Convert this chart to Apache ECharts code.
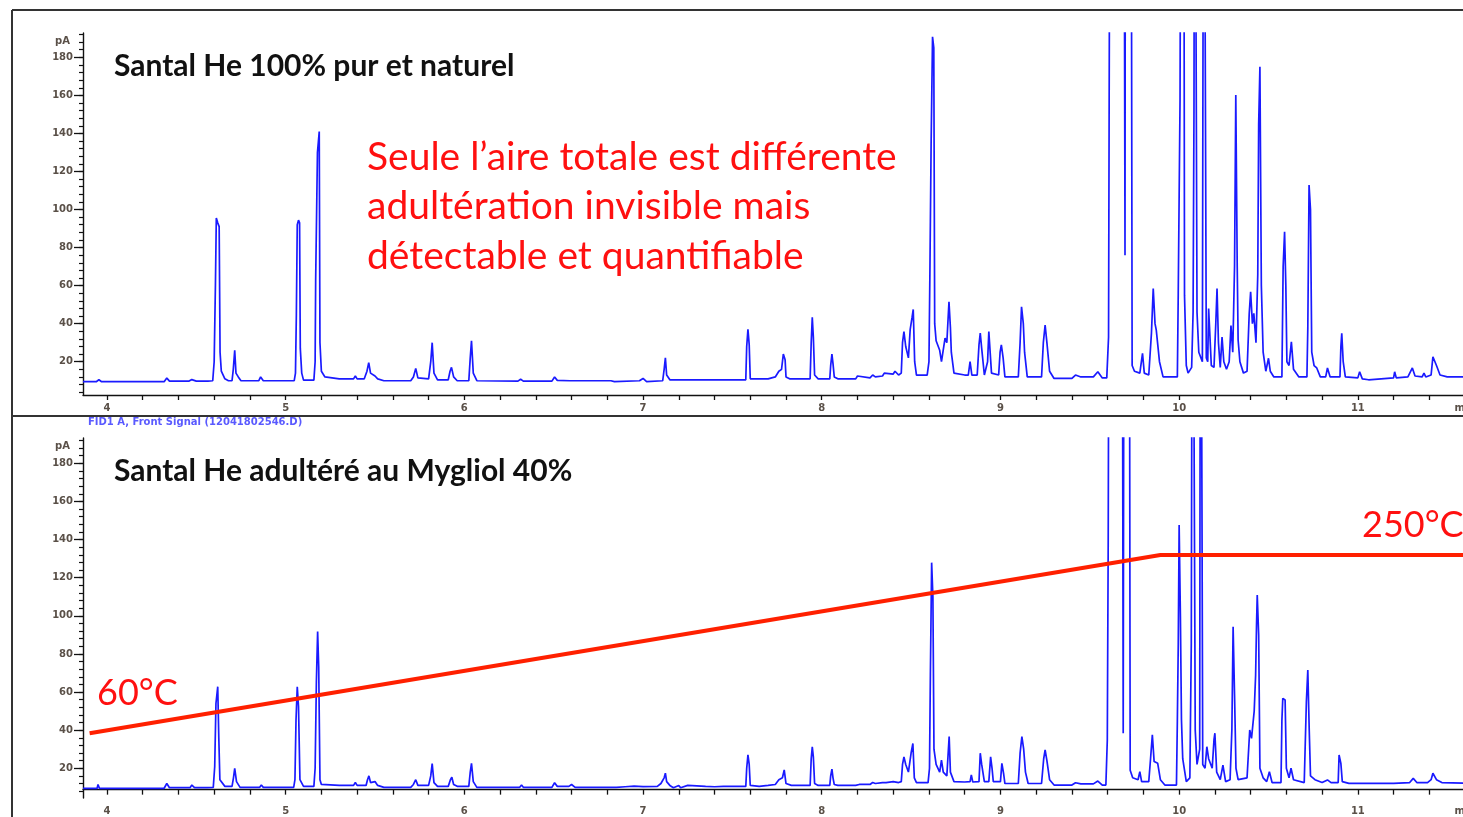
<!DOCTYPE html>
<html lang="fr">
<head>
    <meta charset="utf-8">
    <title>Santal He - chromatogrammes</title>
    <script src="https://cdn.jsdelivr.net/npm/echarts@6/dist/echarts.min.js"></script>
    <style type="text/css">
        html, body { margin: 0; padding: 0; background: #ffffff; }
        #main { width: 1463px; height: 817px; }
    </style>
</head>
<body>
<div id="main"></div>
<script type="text/javascript">
    // axe des temps (min) et axe du signal (pA)
    const timeMin = 3.866, timeMax = 11.62;
    const timeLabels = [4, 5, 6, 7, 8, 9, 10, 11];
    const pALabels = [20, 40, 60, 80, 100, 120, 140, 160, 180];
    const pATopRange = [2.5, 192.8];
    const pABottomRange = [4.4, 193.3];

    // Santal He 100% pur et naturel : [temps, pA]
    const tracePure = [
        [3.866, 9.5], [3.94, 9.5], [3.955, 10.5], [3.97, 9.5],
        [4.32, 9.5], [4.335, 11.4], [4.35, 9.8], [4.46, 9.8], [4.475, 10.6], [4.5, 9.8],
        [4.54, 9.8], [4.55, 10.3], [4.565, 9.8], [4.592, 10], [4.6, 20], [4.607, 60],
        [4.612, 95.5], [4.62, 93], [4.628, 91], [4.633, 25], [4.64, 15], [4.66, 11], [4.68, 10],
        [4.7, 10], [4.707, 16], [4.715, 26], [4.722, 14], [4.735, 12], [4.75, 10],
        [4.85, 10], [4.86, 12], [4.875, 10], [4.905, 10], [4.912, 10.6], [4.92, 10],
        [4.99, 10], [5.0, 10.8], [5.01, 10], [5.048, 10], [5.055, 14], [5.06, 45],
        [5.065, 92], [5.072, 94.4], [5.078, 93], [5.082, 27], [5.09, 14], [5.1, 10.3],
        [5.158, 10.3], [5.165, 20], [5.168, 63], [5.178, 130], [5.188, 141], [5.192, 30],
        [5.2, 15], [5.22, 12], [5.3, 11], [5.38, 11], [5.39, 12.5], [5.4, 11],
        [5.44, 11], [5.455, 15], [5.465, 19.5], [5.475, 14], [5.5, 12.5], [5.515, 11], [5.55, 10],
        [5.7, 10], [5.715, 12], [5.728, 16.5], [5.74, 11.5], [5.8, 11], [5.812, 20],
        [5.82, 30], [5.83, 14], [5.85, 10.5], [5.91, 10.5], [5.92, 15], [5.928, 17],
        [5.94, 12], [5.96, 10], [6.025, 10], [6.033, 22], [6.04, 31], [6.05, 14], [6.07, 10],
        [6.3, 9.8], [6.315, 10.8], [6.33, 9.8], [6.39, 9.8], [6.4, 10.6], [6.41, 9.8],
        [6.49, 9.8], [6.505, 12], [6.52, 10.2], [6.59, 10], [6.6, 11], [6.61, 10],
        [6.82, 10], [6.83, 10.5], [6.84, 9.5], [6.98, 10], [7.0, 11.2], [7.02, 9.5],
        [7.11, 10], [7.118, 16], [7.125, 22], [7.132, 13], [7.15, 10.5], [7.235, 10.5],
        [7.24, 11.2], [7.25, 10.5], [7.34, 10.5], [7.35, 11.2], [7.36, 10.5], [7.47, 10.5],
        [7.48, 11.5], [7.5, 10.5], [7.575, 10.5], [7.58, 28], [7.587, 37], [7.594, 29],
        [7.6, 11], [7.7, 11], [7.74, 12], [7.76, 15], [7.775, 16], [7.785, 24], [7.795, 21],
        [7.8, 12], [7.82, 11], [7.935, 11], [7.941, 30], [7.947, 43.3], [7.953, 33],
        [7.96, 13], [7.98, 11], [8.045, 11], [8.05, 18], [8.057, 24], [8.063, 19], [8.07, 12],
        [8.09, 11], [8.19, 11], [8.2, 12.5], [8.21, 11.5], [8.27, 11.5], [8.285, 13],
        [8.3, 12], [8.34, 12.5], [8.35, 14], [8.36, 13], [8.4, 13.5], [8.41, 15], [8.43, 13],
        [8.445, 14], [8.452, 30], [8.46, 35.8], [8.47, 28], [8.485, 22], [8.495, 37],
        [8.505, 43], [8.512, 47.5], [8.52, 20], [8.53, 13], [8.59, 13], [8.6, 20],
        [8.605, 64.7], [8.612, 134], [8.62, 190.8], [8.627, 185], [8.632, 40], [8.64, 31],
        [8.66, 26], [8.67, 20], [8.69, 32.4], [8.7, 30], [8.712, 51.5], [8.72, 38],
        [8.725, 25], [8.74, 14], [8.8, 13], [8.82, 13], [8.83, 20], [8.84, 13], [8.87, 13],
        [8.88, 29], [8.887, 35], [8.895, 27], [8.91, 13], [8.928, 20], [8.935, 35.8],
        [8.945, 35.8], [8.95, 14], [8.99, 13], [8.998, 25], [9.005, 28.8], [9.015, 22],
        [9.025, 12], [9.1, 12], [9.11, 30], [9.118, 48.9], [9.128, 40], [9.135, 25],
        [9.15, 12], [9.23, 12], [9.24, 30], [9.25, 39.3], [9.26, 30], [9.275, 15],
        [9.3, 11.2], [9.4, 11.2], [9.42, 13], [9.45, 12], [9.52, 12], [9.545, 14.7],
        [9.57, 11.5], [9.595, 11.5], [9.605, 33], [9.608, 143], [9.615, 400], [9.69, 400],
        [9.697, 76], [9.7, 400], [9.73, 400], [9.737, 18], [9.75, 15], [9.78, 14],
        [9.795, 24.4], [9.805, 14], [9.83, 13], [9.845, 35], [9.855, 58.5], [9.865, 40],
        [9.872, 36.6], [9.88, 36.6], [9.89, 20], [9.91, 12], [9.99, 12], [9.995, 56],
        [10.005, 157.6], [10.012, 400], [10.025, 400], [10.03, 55], [10.04, 18], [10.05, 14],
        [10.07, 17], [10.078, 46], [10.083, 151], [10.087, 400], [10.093, 400], [10.1, 46],
        [10.11, 25], [10.13, 20], [10.138, 400], [10.148, 400], [10.152, 22], [10.16, 20],
        [10.165, 48], [10.175, 48], [10.18, 18], [10.195, 17], [10.205, 40], [10.212, 58.5],
        [10.22, 30], [10.23, 17], [10.24, 33], [10.25, 20], [10.265, 16], [10.28, 20],
        [10.29, 39], [10.3, 25], [10.31, 70], [10.317, 160.2], [10.325, 70], [10.33, 31.4],
        [10.34, 20], [10.36, 14], [10.38, 15], [10.392, 45], [10.4, 56.8], [10.41, 40],
        [10.418, 45.4], [10.43, 30], [10.44, 66], [10.445, 145], [10.452, 175], [10.46, 60],
        [10.47, 25], [10.485, 15], [10.5, 21.8], [10.51, 15], [10.53, 12], [10.575, 12],
        [10.582, 70], [10.59, 88.3], [10.597, 60], [10.603, 20], [10.615, 18], [10.628, 30.5],
        [10.64, 16], [10.67, 12], [10.715, 12], [10.72, 37.7], [10.727, 112.9], [10.735, 100],
        [10.742, 25], [10.755, 18], [10.77, 16.7], [10.79, 12], [10.82, 12], [10.83, 16.7],
        [10.845, 12], [10.9, 12], [10.905, 27.9], [10.91, 34.9], [10.918, 20], [10.93, 12],
        [11.0, 11.5], [11.01, 14.7], [11.025, 11], [11.06, 10.5], [11.2, 11.5], [11.206, 14.7],
        [11.215, 11.5], [11.28, 12], [11.305, 16.7], [11.32, 12.5], [11.36, 12], [11.37, 14],
        [11.38, 12], [11.41, 13], [11.42, 22.6], [11.44, 18], [11.46, 13], [11.5, 12], [11.62, 12]
    ];

    // Santal He adultéré au Mygliol 40% : [temps, pA]
    const traceAdulterated = [
        [3.866, 9.5], [3.945, 9.5], [3.95, 11.5], [3.958, 9.5], [4.32, 9.5], [4.335, 12],
        [4.35, 9.8], [4.465, 9.8], [4.475, 11.2], [4.49, 9.8], [4.54, 9.8], [4.547, 10.5],
        [4.56, 9.8], [4.595, 10], [4.603, 20.8], [4.61, 54], [4.62, 62.8], [4.626, 35.7],
        [4.632, 14], [4.66, 10.5], [4.7, 10.5], [4.708, 15], [4.715, 20], [4.725, 13],
        [4.745, 10], [4.855, 10], [4.864, 11.2], [4.875, 10], [5.045, 10], [5.052, 14],
        [5.058, 45.3], [5.065, 62.8], [5.072, 52.3], [5.08, 14], [5.1, 10.5], [5.158, 10.5],
        [5.165, 20], [5.172, 65.4], [5.179, 91.7], [5.185, 73.3], [5.192, 14], [5.2, 11.5],
        [5.3, 11], [5.38, 11], [5.39, 12.5], [5.4, 11], [5.45, 11], [5.458, 14], [5.466, 16],
        [5.475, 12.5], [5.5, 13], [5.515, 11], [5.55, 10], [5.7, 10], [5.715, 11.5],
        [5.728, 14], [5.74, 11], [5.8, 11], [5.812, 16], [5.82, 22.5], [5.83, 12.5],
        [5.85, 10.5], [5.91, 10.5], [5.922, 14], [5.93, 15.3], [5.94, 11.5], [5.96, 10.5],
        [6.025, 10.5], [6.033, 18], [6.04, 22.6], [6.05, 13], [6.07, 10], [6.31, 10],
        [6.32, 11.2], [6.33, 10], [6.49, 10], [6.505, 12.4], [6.52, 10.5], [6.585, 10.5],
        [6.6, 11.5], [6.62, 10], [6.85, 10], [6.86, 10.8], [6.9, 10.3], [6.95, 10.6],
        [7.0, 10.4], [7.08, 10.5], [7.1, 12], [7.118, 15], [7.125, 17.4], [7.132, 13],
        [7.15, 11], [7.17, 9.8], [7.2, 11], [7.21, 9.8], [7.25, 11], [7.3, 10.8],
        [7.35, 10.5], [7.4, 10.3], [7.45, 10.5], [7.5, 10.5], [7.575, 10.5], [7.58, 20],
        [7.587, 27], [7.594, 22], [7.6, 11], [7.65, 10.5], [7.7, 11], [7.74, 11.5],
        [7.76, 14], [7.78, 15], [7.79, 19.1], [7.8, 12], [7.83, 11], [7.935, 11],
        [7.941, 25], [7.947, 31.3], [7.953, 26], [7.96, 12], [7.98, 11], [8.045, 11],
        [8.05, 16], [8.057, 19.5], [8.063, 15], [8.07, 11.5], [8.09, 11], [8.19, 11],
        [8.2, 12], [8.21, 11.5], [8.27, 11.5], [8.285, 12.5], [8.3, 12], [8.34, 12.5],
        [8.35, 13.5], [8.36, 12.5], [8.4, 13], [8.41, 14], [8.43, 12.5], [8.445, 13],
        [8.452, 22], [8.46, 26], [8.47, 22], [8.485, 18], [8.5, 28], [8.51, 33],
        [8.518, 15], [8.53, 12.5], [8.595, 12.5], [8.603, 20], [8.608, 69.8], [8.615, 127.9],
        [8.622, 110], [8.628, 30], [8.64, 22], [8.66, 18], [8.67, 24.3], [8.68, 18],
        [8.7, 16], [8.713, 36.6], [8.72, 18], [8.74, 13], [8.8, 12.8], [8.83, 13],
        [8.837, 16.5], [8.845, 12.8], [8.88, 13], [8.887, 27.9], [8.895, 22], [8.91, 13],
        [8.935, 13], [8.945, 26], [8.953, 20], [8.96, 13], [9.0, 13], [9.008, 22.6],
        [9.018, 17], [9.025, 12], [9.1, 12], [9.11, 28], [9.12, 36.6], [9.13, 30],
        [9.14, 18], [9.155, 12], [9.23, 12], [9.242, 25], [9.25, 29.6], [9.26, 24],
        [9.275, 14], [9.3, 11.2], [9.4, 11.2], [9.42, 12.4], [9.45, 11.8], [9.52, 11.8],
        [9.545, 13.3], [9.57, 11.2], [9.59, 11.2], [9.598, 34.8], [9.603, 138], [9.61, 400],
        [9.68, 400], [9.687, 38.4], [9.693, 400], [9.72, 400], [9.726, 19], [9.74, 15],
        [9.77, 14], [9.78, 18.2], [9.79, 13], [9.83, 13], [9.84, 25], [9.85, 37.5],
        [9.86, 23.5], [9.88, 22.6], [9.895, 14], [9.92, 11.2], [9.985, 11.2], [9.99, 45],
        [9.995, 84.7], [10.0, 147.6], [10.007, 100], [10.013, 45.3], [10.02, 25], [10.04, 13],
        [10.06, 15], [10.068, 85.6], [10.075, 400], [10.085, 400], [10.09, 40], [10.1, 22],
        [10.115, 30], [10.12, 400], [10.128, 400], [10.132, 22], [10.145, 20], [10.155, 31.3],
        [10.165, 25], [10.185, 20], [10.195, 35], [10.2, 38.4], [10.21, 18], [10.23, 14],
        [10.245, 21.7], [10.26, 13], [10.285, 14], [10.295, 40], [10.302, 94.3], [10.31, 58.4],
        [10.318, 20], [10.33, 14], [10.38, 15], [10.395, 40.1], [10.405, 35.7], [10.42, 50],
        [10.428, 68.9], [10.433, 95.2], [10.437, 110.9], [10.445, 90], [10.452, 20], [10.47, 15],
        [10.49, 13], [10.505, 18.2], [10.52, 12.5], [10.57, 12.5], [10.575, 45], [10.58, 56.7],
        [10.593, 55.8], [10.6, 20], [10.615, 15], [10.626, 20], [10.64, 14], [10.7, 12.5],
        [10.712, 54.9], [10.72, 71.6], [10.728, 40], [10.735, 16], [10.76, 14], [10.8, 12.5],
        [10.83, 13.9], [10.85, 12.5], [10.89, 12.5], [10.895, 27], [10.905, 22.6], [10.913, 13],
        [10.95, 12.1], [11.0, 12.1], [11.005, 13], [11.02, 12.1], [11.18, 12.1], [11.187, 13],
        [11.2, 12.1], [11.29, 12.5], [11.31, 14.7], [11.33, 12.5], [11.36, 12.5], [11.37, 13],
        [11.39, 12.5], [11.41, 14], [11.42, 17.4], [11.44, 14], [11.47, 12.5], [11.62, 12.1]
    ];

    // programme de température du four (°C)
    const tempProgram = [[3.903, 60], [9.895, 250], [11.62, 250]];
    const tempRange = [-8.9, 374.7];

    // petites graduations
    const timeMinorTicks = [];
    for (let i = 20; i <= 58; i++) timeMinorTicks.push(i / 5);
    const pAMinorTicks = [];
    for (let v = 4; v <= 192; v += 4) pAMinorTicks.push(v);

    const labelFont = {fontSize: 10, fontWeight: 'bold', color: '#5a5048', fontFamily: 'DejaVu Sans'};
    const axisLine = {show: true, lineStyle: {color: '#111', width: 1.4}};

    function timeAxis(gridIndex) {
        return {
            type: 'value', gridIndex: gridIndex, min: timeMin, max: timeMax,
            axisLine: axisLine,
            axisTick: {show: true, customValues: timeMinorTicks, length: 5, lineStyle: {color: '#111', width: 1.3}},
            axisLabel: Object.assign({
                customValues: timeLabels.concat([11.6]), margin: 8,
                formatter: v => (v > 11.5 ? 'min' : String(v))
            }, labelFont),
            splitLine: {show: false}
        };
    }

    function pAAxis(gridIndex, range) {
        return {
            type: 'value', gridIndex: gridIndex, position: 'left', min: range[0], max: range[1],
            name: 'pA', nameLocation: 'end', nameGap: -3,
            nameTextStyle: Object.assign({align: 'right', verticalAlign: 'top', padding: [0, 13, 0, 0]}, labelFont),
            axisLine: axisLine,
            axisTick: {show: true, customValues: pALabels, length: 9, lineStyle: {color: '#111', width: 1.3}},
            axisLabel: Object.assign({customValues: pALabels, margin: 10}, labelFont),
            splitLine: {show: false}
        };
    }

    function pAMinorAxis(gridIndex, range) {
        return {
            type: 'value', gridIndex: gridIndex, position: 'left', min: range[0], max: range[1],
            axisLine: {show: false},
            axisTick: {show: true, customValues: pAMinorTicks.filter(v => v > range[0]), length: 4,
                lineStyle: {color: '#111', width: 1.2}},
            axisLabel: {show: false},
            splitLine: {show: false}
        };
    }

    const gridWidth = (timeMax - timeMin) * 178.7;
    const chart = echarts.init(document.getElementById('main'));
    const redText = {fill: '#ff1010', fontFamily: 'Lato', fontSize: 39, verticalAlign: 'middle'};
    const titleText = {fill: '#111', fontFamily: 'Lato', fontWeight: 'bold', fontSize: 30, verticalAlign: 'middle'};

    chart.setOption({
        animation: false,
        backgroundColor: '#ffffff',
        grid: [
            {left: 83, top: 33, width: gridWidth, height: 362, outerBoundsMode: 'none', containLabel: false},
            {left: 83, top: 438, width: gridWidth, height: 360, outerBoundsMode: 'none', containLabel: false}
        ],
        xAxis: [timeAxis(0), timeAxis(1)],
        yAxis: [
            pAAxis(0, pATopRange), pAMinorAxis(0, pATopRange),
            pAAxis(1, pABottomRange), pAMinorAxis(1, pABottomRange),
            {type: 'value', gridIndex: 1, position: 'right', show: false, min: tempRange[0], max: tempRange[1]}
        ],
        series: [
            {
                name: 'Santal He 100% pur et naturel', type: 'line', xAxisIndex: 0, yAxisIndex: 0,
                data: tracePure, showSymbol: false, lineStyle: {color: '#1a1aff', width: 1.7}
            },
            {
                name: 'Santal He adultéré au Mygliol 40%', type: 'line', xAxisIndex: 1, yAxisIndex: 2,
                data: traceAdulterated, showSymbol: false, lineStyle: {color: '#1a1aff', width: 1.7}
            },
            {
                name: 'Température', type: 'line', xAxisIndex: 1, yAxisIndex: 4, z: 5,
                data: tempProgram, showSymbol: false, lineStyle: {color: '#ff2000', width: 4}
            }
        ],
        graphic: [
            // cadre de la diapositive
            {type: 'line', shape: {x1: 12, y1: 10, x2: 1463, y2: 10}, style: {stroke: '#333', lineWidth: 2}},
            {type: 'line', shape: {x1: 12, y1: 10, x2: 12, y2: 817}, style: {stroke: '#333', lineWidth: 2}},
            {type: 'line', shape: {x1: 12, y1: 416, x2: 1463, y2: 416}, style: {stroke: '#333', lineWidth: 2}},
            {type: 'text', x: 114, y: 66, style: Object.assign({text: 'Santal He 100% pur et naturel'}, titleText)},
            {type: 'text', x: 114, y: 471, style: Object.assign({text: 'Santal He adultéré au Mygliol 40%'}, titleText)},
            {type: 'text', x: 367, y: 157, style: Object.assign({text: 'Seule l\u2019aire totale est différente'}, redText)},
            {type: 'text', x: 367, y: 206, style: Object.assign({text: 'adultération invisible mais'}, redText)},
            {type: 'text', x: 367, y: 256, style: Object.assign({text: 'détectable et quantifiable'}, redText)},
            {type: 'text', x: 88, y: 422, style: {text: 'FID1 A, Front Signal (12041802546.D)', verticalAlign: 'middle',
                    fill: '#5a5aff', fontFamily: 'DejaVu Sans', fontWeight: 'bold', fontSize: 10}},
            {type: 'text', x: 97, y: 693, style: Object.assign({}, redText, {text: '60°C', fontSize: 36})},
            {type: 'text', x: 1362, y: 525, style: Object.assign({}, redText, {text: '250°C', fontSize: 36})}
        ]
    });
</script>
</body>
</html>
